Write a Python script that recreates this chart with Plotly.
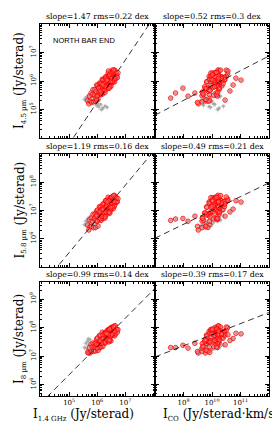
import plotly.graph_objects as go

# ---- data: log10 intensities ----
# red (significant) points: 1.4 GHz, CO, 4.5um, 5.8um, 8um
red_radio = [5.66,5.70,5.72,5.75,5.78,5.80,5.82,5.85,5.87,5.90,5.92,5.94,5.96,5.98,6.00,6.01,6.03,6.05,6.06,6.08,
             6.10,6.11,6.12,6.14,6.15,6.17,6.18,6.20,6.21,6.22,6.24,6.25,6.26,6.28,6.29,6.30,6.32,6.33,6.34,6.35,
             6.36,6.38,6.39,6.40,6.41,6.42,6.43,6.44,6.45,6.46,6.47,6.48,6.49,6.50,6.51,6.52,6.53,6.54,6.55,6.56,
             6.57,6.58,6.59,6.60,6.61,6.62,6.63,6.64,6.65,6.66,6.68,6.70,6.72,6.74,6.30,6.40,6.45,6.50,6.55,6.35,
             6.20,6.27,6.37,6.48,6.58,6.42,6.33,6.52,6.44,6.62,
             5.95,6.05,6.10,6.00,6.15,6.40,6.30,6.35,6.20,6.10,5.98]
red_i45 = [5.31,5.20,5.47,5.30,5.58,5.25,5.52,5.70,5.27,5.50,5.70,5.29,5.64,5.86,5.48,5.83,5.35,5.77,5.61,5.93,
           5.52,5.76,5.92,5.52,5.90,5.69,6.06,5.55,5.91,5.67,6.06,5.80,6.04,5.60,5.97,6.15,5.74,6.05,5.84,6.15,
           5.74,6.03,6.27,5.85,6.16,5.77,6.13,6.04,5.85,6.24,5.99,6.30,5.81,6.15,6.26,6.00,6.38,5.96,6.23,6.11,
           6.29,5.96,6.21,6.05,6.39,5.97,6.28,6.16,6.35,6.08,6.28,6.18,6.12,6.29,5.80,6.15,5.80,6.30,6.00,6.05,
           6.05,5.67,6.02,5.98,6.38,5.74,6.05,6.10,6.22,6.10,
           5.40,5.75,5.58,5.47,5.58,6.35,6.10,6.03,5.86,5.65,5.33]
red_i58 = [6.49,6.31,6.67,6.43,6.73,6.44,6.62,6.87,6.39,6.71,6.88,6.40,6.84,6.99,6.63,7.02,6.45,6.94,6.73,7.14,
           6.70,6.87,7.12,6.65,7.05,6.88,7.16,6.72,7.03,6.88,7.24,6.91,7.24,6.73,7.12,7.34,6.84,7.22,6.96,7.36,
           6.92,7.14,7.47,6.98,7.31,6.96,7.23,7.21,6.97,7.45,7.17,7.41,7.01,7.28,7.41,7.19,7.48,7.13,7.35,7.32,
           7.47,7.07,7.41,7.18,7.54,7.16,7.38,7.33,7.47,7.29,7.46,7.29,7.32,7.42,6.95,7.34,6.90,7.47,7.12,7.26,
           7.23,6.78,7.22,7.11,7.53,6.93,7.15,7.27,7.34,7.31,
           6.65,6.72,6.70,6.62,6.80,7.35,7.35,7.30,7.05,6.95,6.80]
red_i8 = [7.13,7.11,7.30,7.11,7.42,7.16,7.32,7.46,7.17,7.32,7.44,7.18,7.49,7.60,7.28,7.64,7.20,7.50,7.44,7.73,
          7.32,7.51,7.71,7.34,7.60,7.51,7.84,7.34,7.63,7.50,7.79,7.52,7.80,7.46,7.69,7.83,7.56,7.78,7.55,7.89,
          7.57,7.74,7.93,7.65,7.87,7.50,7.88,7.82,7.59,7.91,7.77,7.99,7.53,7.89,8.00,7.72,8.02,7.74,7.93,7.78,
          8.01,7.75,7.89,7.75,8.06,7.71,7.92,7.90,8.06,7.78,7.94,7.93,7.84,7.93,7.60,7.91,7.55,7.96,7.78,7.78,
          7.73,7.49,7.80,7.70,8.02,7.56,7.78,7.77,7.95,7.87,
          7.30,7.38,7.30,7.28,7.45,7.75,7.80,7.78,7.62,7.55,7.40]
red_co = [9.92,9.52,10.19,9.77,10.14,9.49,9.91,10.25,9.65,10.06,9.80,9.86,9.87,10.17,9.65,10.35,9.79,10.23,9.66,10.10,
          10.16,9.87,10.24,9.71,10.14,9.89,10.26,9.68,10.39,9.93,10.36,9.74,10.15,10.20,9.97,10.35,9.81,10.20,9.96,10.30,
          9.76,10.44,10.20,10.26,9.90,10.03,10.44,10.00,10.21,10.04,10.18,10.17,10.15,9.95,10.55,10.08,10.50,9.81,10.23,10.43,
          10.11,10.26,10.02,10.20,10.21,10.22,10.01,10.50,10.24,10.37,9.96,10.21,10.43,10.11,10.19,10.00,10.09,10.17,10.23,9.90,
          10.45,9.93,10.34,9.82,10.30,10.26,10.00,10.33,10.02,10.23,
          8.55,8.98,8.72,9.16,9.40,10.56,10.84,11.02,10.74,10.63,10.46]

# grey (low signal-to-noise) points
gry_radio = [5.55,5.60,5.63,5.66,5.70,5.74,5.78,5.82,5.86,5.90,5.95,5.98,6.05,6.12,6.20,6.28,6.35,6.02,6.15,5.68]
gry_i45 = [5.35,5.42,5.30,5.45,5.38,5.47,5.33,5.44,5.30,5.47,5.34,5.15,5.10,5.18,5.05,5.12,5.08,5.20,5.00,5.28]
gry_i58 = [6.50,6.62,6.45,6.70,6.55,6.78,6.48,6.60,6.52,6.66,6.58,6.55,6.62,6.70,6.72,6.80,6.85,6.58,6.65,6.42]
gry_i8 = [7.30,7.45,7.25,7.52,7.38,7.58,7.28,7.42,7.22,7.35,7.26,7.20,7.25,7.30,7.35,7.40,7.45,7.28,7.32,7.60]
gry_co = [9.70,9.95,9.60,10.10,9.80,10.25,9.65,9.90,10.00,10.30,9.75,9.70,9.90,10.10,10.25,10.40,9.95,10.05,10.20,9.85]

slopes = [1.47, 0.52, 1.19, 0.49, 0.99, 0.39]
intercepts = [-3.556, 0.64, -0.438, 2.10, 1.399, 3.85]
rms = ["0.22", "0.3", "0.16", "0.21", "0.14", "0.17"]

xranges = [[3.96, 8.06], [8.0, 12.0]]
yranges = [[4.0, 8.0], [5.0, 9.0], [5.6, 9.6]]
xlabel_dec = [[5, 6, 7], [9, 10, 11]]
ylabel_dec = [[5, 6, 7], [6, 7, 8], [6, 7, 8, 9]]

# ---- layout geometry (pixels) ----
W, H = 280, 434
colpx = [(32, 147), (147, 261)]
rowpx = [(16, 130), (146, 259), (274, 388)]
def px(x): return x / W
def py(y): return 1 - y / H

SERIF = "DejaVu Serif"
fig = go.Figure()
layout = dict(width=W, height=H, margin=dict(l=0, r=0, t=0, b=0),
              paper_bgcolor="white", plot_bgcolor="white", showlegend=False)

ys_red = [red_i45, red_i58, red_i8]
ys_gry = [gry_i45, gry_i58, gry_i8]
xs_red = [red_radio, red_co]
xs_gry = [gry_radio, gry_co]

annotations = []
for r in range(3):
    for c in range(2):
        k = r * 2 + c
        n = "" if k == 0 else str(k + 1)
        xa, ya = "x" + n, "y" + n
        gx = [10 ** v for v in xs_red[c] + xs_gry[c]]
        gy = [10 ** v for v in ys_red[r] + ys_gry[r]]
        fig.add_trace(go.Scatter(x=gx, y=gy, mode="markers", xaxis=xa, yaxis=ya,
                                 marker=dict(symbol="square", size=2.5, color="#a8a8a8"),
                                 error_x=dict(type="percent", value=22, color="#c4c4c4", thickness=0.7, width=0),
                                 error_y=dict(type="percent", value=22, color="#c4c4c4", thickness=0.7, width=0)))
        fig.add_trace(go.Scatter(x=[10 ** v for v in xs_red[c]], y=[10 ** v for v in ys_red[r]],
                                 mode="markers", xaxis=xa, yaxis=ya,
                                 marker=dict(symbol="circle", size=4.5, color="rgba(255,140,140,0.35)",
                                             line=dict(color="#ff0000", width=0.8))))
        x0, x1 = xranges[c]
        m, b = slopes[k], intercepts[k]
        fig.add_trace(go.Scatter(x=[10 ** x0, 10 ** x1], y=[10 ** (m * x0 + b), 10 ** (m * x1 + b)],
                                 mode="lines", xaxis=xa, yaxis=ya,
                                 line=dict(color="black", width=0.8, dash="6px,4px")))
        xl, xr = colpx[c]
        yt, yb = rowpx[r]
        xdec = list(range(int(xranges[c][0]), int(xranges[c][1]) + 2))
        ydec = list(range(int(yranges[r][0]), int(yranges[r][1]) + 2))
        xminor = [m_ * 10 ** d for d in xdec for m_ in range(1, 10) if not (m_ == 1 and d in xlabel_dec[c])]
        yminor = [m_ * 10 ** d for d in ydec for m_ in range(1, 10) if not (m_ == 1 and d in ylabel_dec[r])]
        common = dict(type="log", showline=True, linecolor="black", linewidth=1, mirror="allticks",
                      ticks="inside", ticklen=4, tickwidth=0.8, tickcolor="black",
                      showgrid=False, zeroline=False,
                      tickfont=dict(family=SERIF, size=7, color="black"))
        minor_base = dict(tickmode="array", ticks="inside", ticklen=2, tickcolor="black", showgrid=False)
        xax = dict(common, domain=[px(xl), px(xr)], range=xranges[c], anchor=ya,
                   tickmode="array", tickvals=[10 ** d for d in xlabel_dec[c]],
                   ticktext=["10<sup>%d</sup>" % d for d in xlabel_dec[c]],
                   showticklabels=(r == 2), minor=dict(minor_base, tickvals=xminor))
        yax = dict(common, domain=[py(yb), py(yt)], range=yranges[r], anchor=xa,
                   tickmode="array", tickvals=[10 ** d for d in ylabel_dec[r]],
                   ticktext=["10<sup>%d</sup>" % d for d in ylabel_dec[r]],
                   showticklabels=(c == 0), tickangle=-90, minor=dict(minor_base, tickvals=yminor))
        layout["xaxis" + n] = xax
        layout["yaxis" + n] = yax
        annotations.append(dict(text="slope=%.2f rms=%s dex" % (slopes[k], rms[k]),
                                x=px((xl + xr) / 2), y=py(yt - 1), xref="paper", yref="paper",
                                xanchor="center", yanchor="bottom", showarrow=False,
                                font=dict(family=SERIF, size=7.8, color="black")))

annotations.append(dict(text="NORTH BAR END", x=px(43), y=py(32), xref="paper", yref="paper",
                        xanchor="left", yanchor="middle", showarrow=False,
                        font=dict(family="Liberation Sans", size=7.5, color="black")))

ytitles = ["I<sub><span style='font-size:7px'>4.5 µm</span></sub> (Jy/sterad)",
           "I<sub><span style='font-size:7px'>5.8 µm</span></sub> (Jy/sterad)",
           "I<sub><span style='font-size:7px'>8 µm</span></sub> (Jy/sterad)"]
for r in range(3):
    yt, yb = rowpx[r]
    annotations.append(dict(text=ytitles[r], x=px(12), y=py((yt + yb) / 2), xref="paper", yref="paper",
                            xanchor="center", yanchor="middle", textangle=-90, showarrow=False,
                            font=dict(family=SERIF, size=12, color="black")))

annotations.append(dict(text="I<sub><span style='font-size:7px'>1.4 GHz</span></sub> (Jy/sterad)",
                        x=px(75), y=py(407), xref="paper", yref="paper", xanchor="center", yanchor="middle",
                        showarrow=False, font=dict(family=SERIF, size=12, color="black")))
annotations.append(dict(text="I<sub><span style='font-size:7px'>CO</span></sub> (Jy/sterad·km/s)",
                        x=px(213), y=py(407), xref="paper", yref="paper", xanchor="center", yanchor="middle",
                        showarrow=False, font=dict(family=SERIF, size=12, color="black")))

layout["annotations"] = annotations
fig.update_layout(**layout)
fig.write_html("out.html")
